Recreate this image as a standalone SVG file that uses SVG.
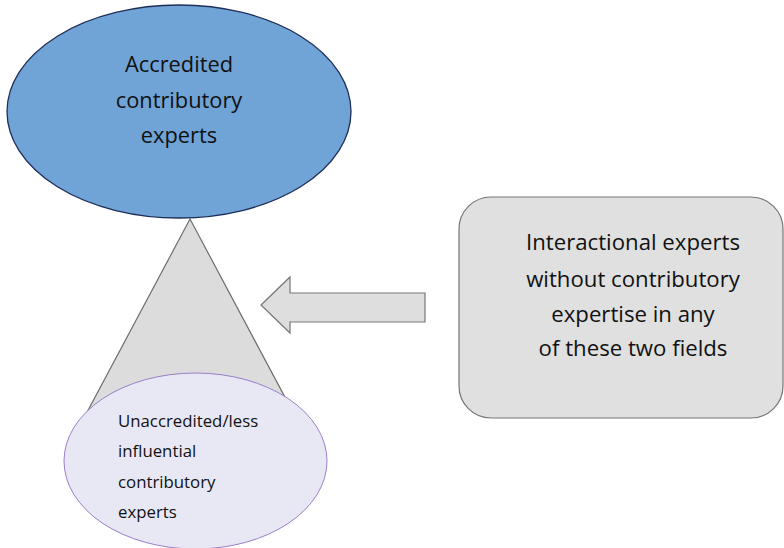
<svg xmlns="http://www.w3.org/2000/svg" width="784" height="548" viewBox="0 0 784 548">
  <style>
    .lbl { font-family: "Open Sans", "Liberation Sans", sans-serif; fill: #111; }
    .big { font-size: 22.2px; text-anchor: middle; }
    .top { font-size: 21.8px; text-anchor: middle; }
    .small { font-size: 16.8px; }
  </style>
  <rect width="784" height="548" fill="#ffffff"/>

  <!-- cone joining the two expert groups -->
  <g id="cone">
    <polygon points="190,219 68,448 312,448" fill="#dcdcdc" stroke="#6e6e6e" stroke-width="1.2"/>
  </g>

  <g id="accredited">
    <ellipse cx="179" cy="111.5" rx="172" ry="106.5" fill="#70a3d6" stroke="#1f2f5a" stroke-width="1.3"/>
    <text class="lbl top" x="179" y="72">Accredited</text>
    <text class="lbl top" x="179" y="108">contributory</text>
    <text class="lbl top" x="179" y="143">experts</text>
  </g>

  <g id="unaccredited">
    <ellipse cx="195.5" cy="461" rx="131.5" ry="88" fill="#e8e8f4" stroke="#9a7ec9" stroke-width="1"/>
    <text class="lbl small" x="118" y="427">Unaccredited/less</text>
    <text class="lbl small" x="118" y="457">influential</text>
    <text class="lbl small" x="118" y="488">contributory</text>
    <text class="lbl small" x="118" y="518">experts</text>
  </g>

  <g id="connectors">
    <polygon points="261,305 290,277 290,293 425,293 425,322 290,322 290,333" fill="#dedede" stroke="#767676" stroke-width="1.2"/>
  </g>

  <g id="interactional">
    <rect x="459" y="197" width="324" height="221" rx="32" ry="32" fill="#e0e0e0" stroke="#767676" stroke-width="1.2"/>
    <text class="lbl big" x="633" y="250">Interactional experts</text>
    <text class="lbl big" x="633" y="287">without contributory</text>
    <text class="lbl big" x="633" y="322">expertise in any</text>
    <text class="lbl big" x="633" y="356">of these two fields</text>
  </g>
</svg>
